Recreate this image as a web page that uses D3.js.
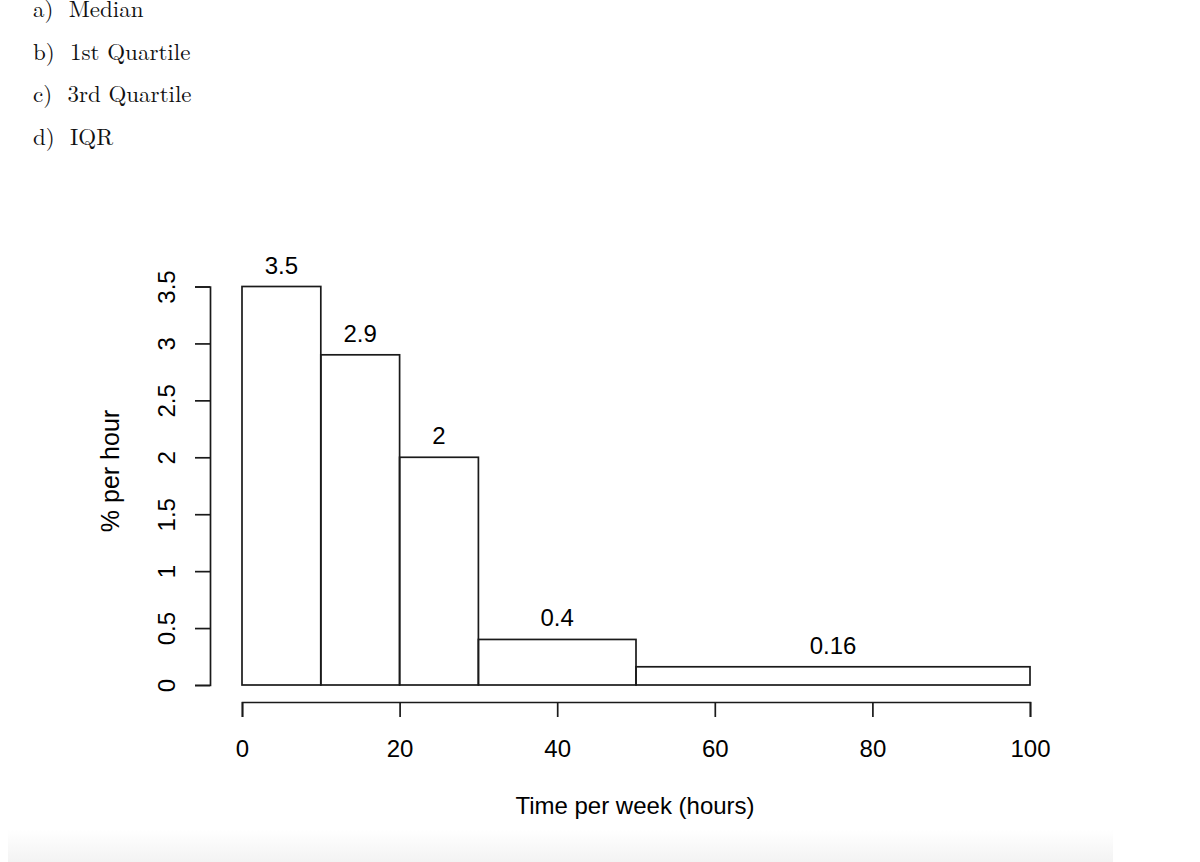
<!DOCTYPE html>
<html>
<head>
<meta charset="utf-8">
<script src="https://cdn.jsdelivr.net/npm/d3@7"></script>
<style>
  html, body { margin: 0; padding: 0; background: #fff; }
  svg { display: block; }
</style>
</head>
<body>
<svg id="chart" width="1200" height="862"></svg>
<script>
// ---- data ----
const questions = ["a)  Median", "b)  1st Quartile", "c)  3rd Quartile", "d)  IQR"];
const binStarts = [0, 10, 20, 30, 50];
const binEnds   = [10, 20, 30, 50, 100];
const heights   = [3.5, 2.9, 2, 0.4, 0.16];
const barLabels = ["3.5", "2.9", "2", "0.4", "0.16"];
const xTicks = [0, 20, 40, 60, 80, 100];
const yTicks = [0, 0.5, 1, 1.5, 2, 2.5, 3, 3.5];
const yTickLabels = ["0", "0.5", "1", "1.5", "2", "2.5", "3", "3.5"];
const xTitle = "Time per week (hours)";
const yTitle = "% per hour";

const svg = d3.select("#chart");
const sans = "'Liberation Sans', Arial, Helvetica, sans-serif";

// bottom faint band
const defs = svg.append("defs");
const grad = defs.append("linearGradient").attr("id", "band").attr("x1", 0).attr("y1", 0).attr("x2", 0).attr("y2", 1);
grad.append("stop").attr("offset", "0%").attr("stop-color", "#ffffff");
grad.append("stop").attr("offset", "100%").attr("stop-color", "#f3f3f3");
svg.append("rect").attr("x", 8).attr("y", 830).attr("width", 1105).attr("height", 32).attr("fill", "url(#band)");

// question text
svg.append("g").selectAll("text").data(questions).join("text")
  .attr("x", 33)
  .attr("y", (d, i) => 17 + i * 42.5)
  .attr("font-family", "'Latin Modern Roman', 'CMU Serif', 'Liberation Serif', 'DejaVu Serif', serif")
  .attr("font-size", 23)
  .attr("fill", "#111")
  .style("white-space", "pre")
  .text(d => d);

// scales
const x = d3.scaleLinear().domain([0, 100]).range([242, 1030]);
const y = d3.scaleLinear().domain([0, 3.5]).range([685, 286.5]);

// bars
const bins = heights.map((h, i) => ({ x0: binStarts[i], x1: binEnds[i], h, label: barLabels[i] }));
svg.append("g").selectAll("rect").data(bins).join("rect")
  .attr("x", d => x(d.x0))
  .attr("y", d => y(d.h))
  .attr("width", d => x(d.x1) - x(d.x0))
  .attr("height", d => y(0) - y(d.h))
  .attr("fill", "none")
  .attr("stroke", "#1a1a1a")
  .attr("stroke-width", 1.7);

// bar labels
svg.append("g").selectAll("text").data(bins).join("text")
  .attr("x", d => (x(d.x0) + x(d.x1)) / 2)
  .attr("y", d => y(d.h) - 13)
  .attr("text-anchor", "middle")
  .attr("font-family", sans)
  .attr("font-size", 24)
  .attr("fill", "#000")
  .text(d => d.label);

// x axis
const xAxis = svg.append("g")
  .attr("transform", "translate(0,702)")
  .call(d3.axisBottom(x).tickValues(xTicks).tickSize(15).tickSizeOuter(15).tickPadding(22.5).tickFormat(d3.format("d")));
xAxis.selectAll("path, line").attr("stroke", "#1a1a1a").attr("stroke-width", 1.7);
xAxis.selectAll("text").attr("font-family", sans).attr("font-size", 24).attr("fill", "#000");

// y axis
const yAxis = svg.append("g")
  .attr("transform", "translate(210,0)")
  .call(d3.axisLeft(y).tickValues(yTicks).tickSize(15).tickSizeOuter(15).tickFormat((d, i) => yTickLabels[i]));
yAxis.selectAll("path, line").attr("stroke", "#1a1a1a").attr("stroke-width", 1.7);
yAxis.selectAll("text")
  .attr("x", null).attr("dy", "0.35em")
  .attr("transform", "translate(-43,0) rotate(-90)")
  .attr("text-anchor", "middle")
  .attr("font-family", sans).attr("font-size", 24).attr("fill", "#000");

// axis titles
svg.append("text")
  .attr("x", 635).attr("y", 814)
  .attr("text-anchor", "middle")
  .attr("font-family", sans).attr("font-size", 24).attr("fill", "#000")
  .text(xTitle);

svg.append("text")
  .attr("transform", "translate(110,471) rotate(-90)")
  .attr("dy", "0.35em")
  .attr("text-anchor", "middle")
  .attr("font-family", sans).attr("font-size", 25).attr("fill", "#000")
  .text(yTitle);
</script>
</body>
</html>
